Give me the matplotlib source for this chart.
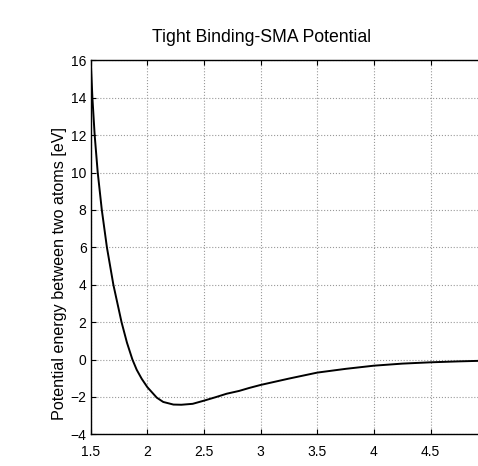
import matplotlib
matplotlib.use("Agg")
import matplotlib.pyplot as plt

# interatomic distance and pair energy [eV]
r = [1.50, 1.515, 1.535, 1.562, 1.598, 1.643, 1.700, 1.772, 1.82, 1.868,
     1.906, 1.95, 2.0, 2.083, 2.14, 2.23, 2.3, 2.4, 2.5, 2.6,
     2.7, 2.81, 2.9, 3.0, 3.25, 3.5, 3.75, 4.0, 4.25, 4.5, 4.75, 5.0]
energy = [16.0, 14.0, 12.0, 10.0, 8.0, 6.0, 4.0, 2.0, 0.9, 0.0,
          -0.55, -1.03, -1.48, -2.04, -2.27, -2.41, -2.42, -2.37, -2.2, -2.02,
          -1.83, -1.68, -1.52, -1.36, -1.02, -0.70, -0.5, -0.33, -0.22, -0.15, -0.1, -0.06]

xticks = [1.5, 2, 2.5, 3, 3.5, 4, 4.5]
xticklabels = ["1.5", "2", "2.5", "3", "3.5", "4", "4.5"]
yticks = list(range(-4, 17, 2))

plt.rcParams['font.family'] = ['Liberation Sans', 'DejaVu Sans']

W, H = 478, 466
fig = plt.figure(figsize=(W / 100, H / 100), dpi=100)
left, right, top, bottom = 90.7, 487.3, 60.3, 434.3
ax = fig.add_axes([left / W, 1 - bottom / H, (right - left) / W, (bottom - top) / H])

ax.plot(r, energy, color='black', lw=1.4)
ax.set_xlim(1.5, 5.0)
ax.set_ylim(-4, 16)
ax.set_xticks(xticks)
ax.set_xticklabels(xticklabels)
ax.set_yticks(yticks)
ax.tick_params(direction='in', length=3.5, width=0.8, labelsize=10,
               top=True, right=True)
ax.tick_params(axis='y', pad=3)
ax.tick_params(axis='x', pad=8)
ax.grid(True, color='#999999', linestyle=':', linewidth=0.8)
for s in ax.spines.values():
    s.set_linewidth(1.0)

fig.text(262 / W, 1 - 38 / H, "Tight Binding-SMA Potential", ha='center', va='center',
         fontsize=12.7)
fig.text(60 / W, 1 - 273 / H, "Potential energy between two atoms [eV]", rotation=90,
         ha='center', va='center', fontsize=11.6)

fig.savefig("out.png", dpi=100)
